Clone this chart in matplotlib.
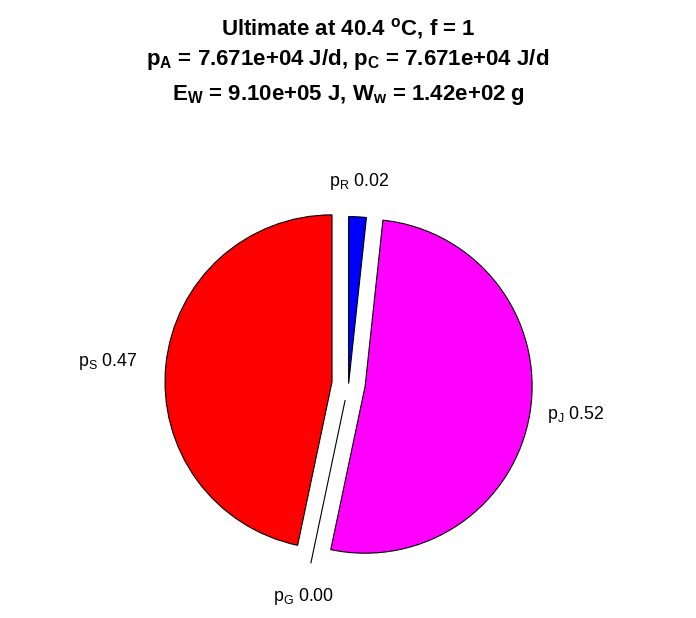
import numpy as np
import matplotlib
matplotlib.use("Agg")
import matplotlib.pyplot as plt

plt.rcParams['font.family'] = ['Liberation Sans', 'DejaVu Sans']
plt.rcParams['mathtext.fontset'] = 'custom'
plt.rcParams['mathtext.rm'] = 'Liberation Sans'
plt.rcParams['mathtext.it'] = 'Liberation Sans'
plt.rcParams['mathtext.bf'] = 'Liberation Sans:bold'

# fractions of power, clockwise from the top
names = ['R', 'J', 'G', 'S']
fractions = [0.017, 0.516, 0.0, 0.467]
slice_colors = ['#0000ff', '#ff00ff', '#00ff00', '#ff0000']
explode = [0.0, 0.1, 0.1, 0.1]

title_lines = [
    r"Ultimate at 40.4 $\mathbf{^{o}}$C, f = 1",
    r"$\mathbf{p_A}$ = 7.671e+04 J/d, $\mathbf{p_C}$ = 7.671e+04 J/d",
    r"$\mathbf{E_W}$ = 9.10e+05 J, $\mathbf{W_w}$ = 1.42e+02 g",
]

fig = plt.figure(figsize=(6.96, 6.18), dpi=100)
ax = fig.add_axes([0.021, 0.0145, 0.9598, 0.7296])

wedges, _ = ax.pie(fractions, colors=slice_colors, explode=explode,
                   startangle=90, counterclock=False, radius=1.0,
                   wedgeprops=dict(edgecolor='black', linewidth=0.8))

# label placement (distance from wedge centre, alignment)
label_dist = [1.21, 1.1, 1.2, 1.17]
label_ha = ['center', 'left', 'center', 'right']
for w, n, v, d, ha in zip(wedges, names, fractions, label_dist, label_ha):
    ang = np.deg2rad((w.theta1 + w.theta2) / 2)
    cx, cy = w.center
    ax.text(cx + d * np.cos(ang), cy + d * np.sin(ang),
            r"$\mathregular{p_%s}$ %.2f" % (n, v),
            ha=ha, va='center', fontsize=12.8)

ax.set_xlim(-2, 2)
ax.set_ylim(-1.35, 1.35)

ys = [0.9434, 0.8948, 0.8382]
for t, y in zip(title_lines, ys):
    fig.text(0.5, y, t, ha='center', va='baseline', fontsize=16,
             fontweight='bold')

fig.savefig('out.png', dpi=100)
